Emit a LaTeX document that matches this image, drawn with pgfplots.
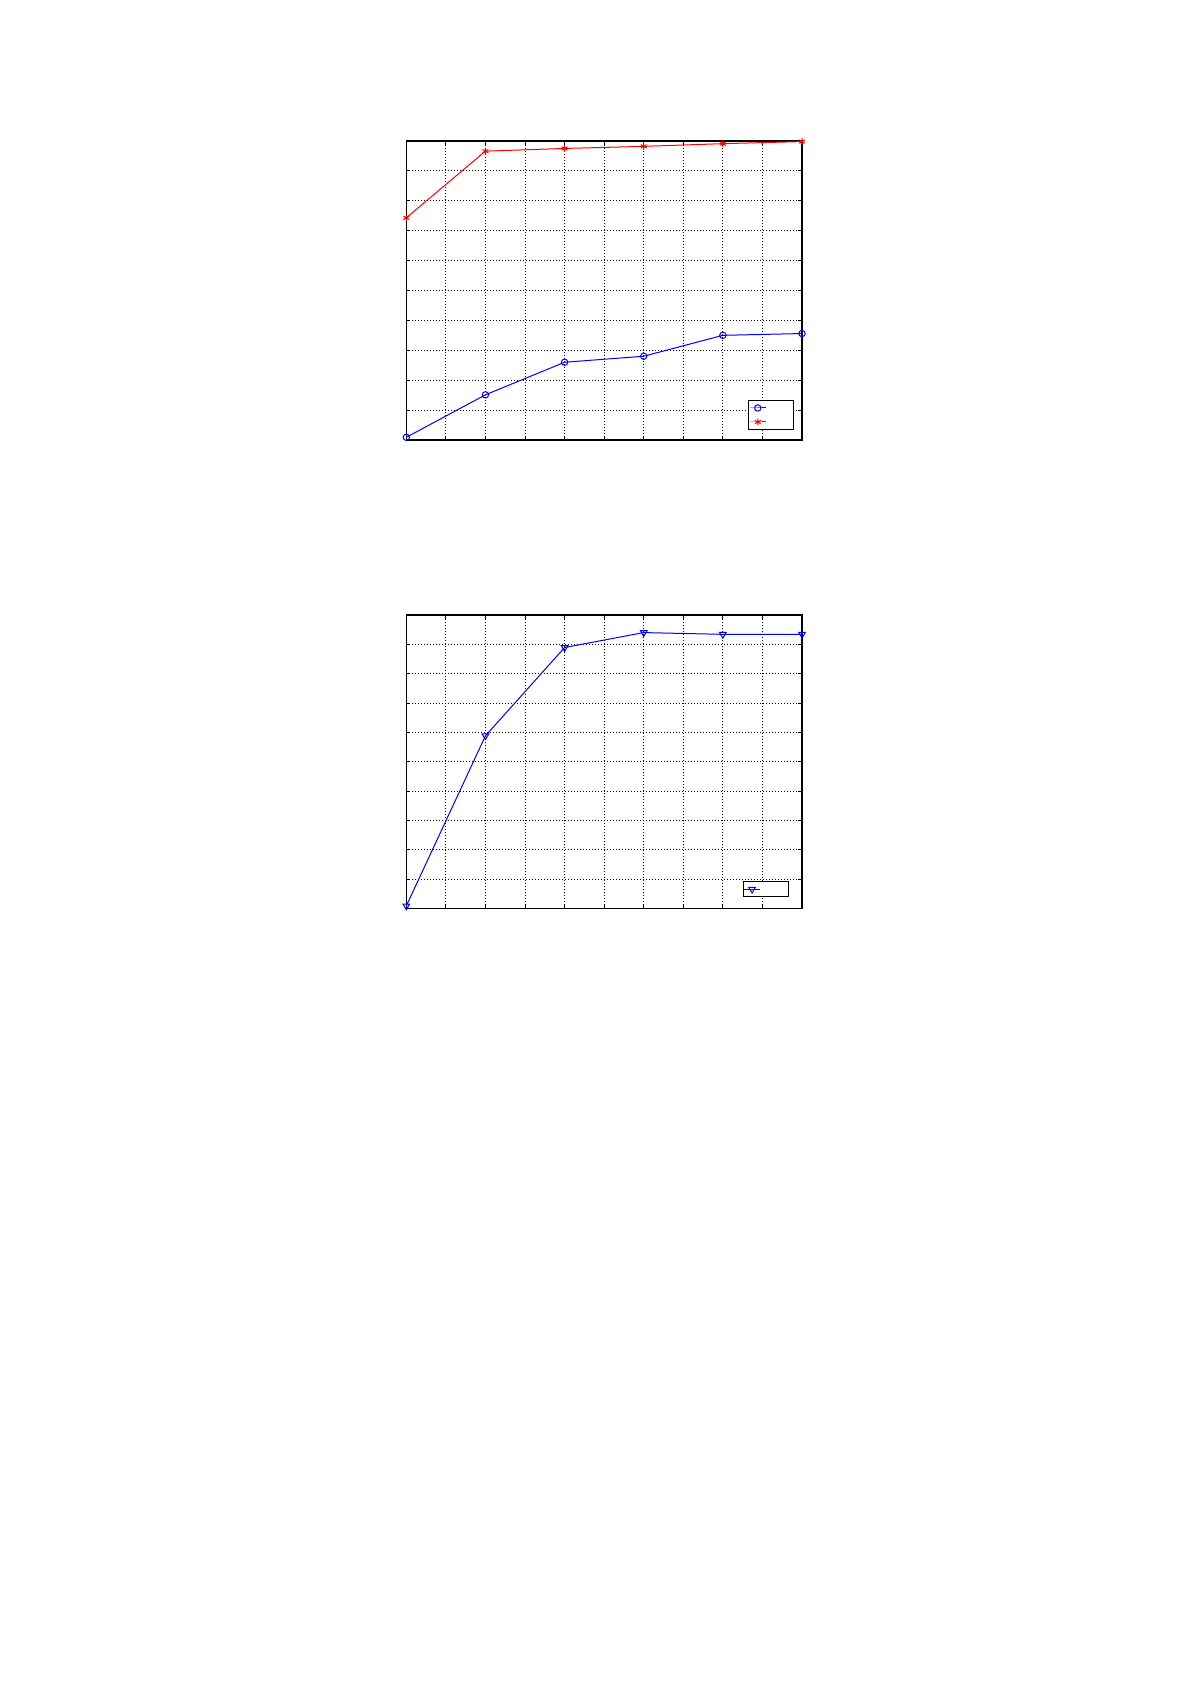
\documentclass[border=0pt]{standalone}
\usepackage{pgfplots}
\pgfplotsset{compat=1.18}
\definecolor{mblue}{rgb}{0,0,1}
\definecolor{mred}{rgb}{1,0,0}
\pgfplotsset{
  mstyle/.style={
    scale only axis,
    width=197.85pt,
    xmin=0, xmax=10, ymin=0, ymax=10,
    xtick={0,1,...,10}, ytick={0,1,...,10},
    xticklabels={}, yticklabels={},
    tick align=inside,
    major tick length=1.8pt,
    tick style={black, line width=0.4pt},
    axis line style={black, line width=0.6pt},
    grid=major,
    major grid style={black, line width=0.45pt, dash pattern=on 0.5pt off 1pt},
    clip=false,
    legend style={at={(1,0)}, anchor=south east, xshift=-3.85pt, yshift=5pt,
      draw=black, line width=0.5pt, inner sep=0.25pt, font=\tiny,
      nodes={inner sep=0.5pt, text height=3.5pt, text depth=2.5pt},
      row sep=0pt},
    legend image code/.code={%
      \draw[mark repeat=2,mark phase=2] plot coordinates {(0pt,0pt) (4pt,0pt) (8pt,0pt)};},
  }
}
\begin{document}
\begin{tikzpicture}[x=1pt,y=1pt]
\path[use as bounding box] (0,0) rectangle (595.5,842.5);
\begin{axis}[mstyle, height=149.5pt, at={(203.15pt,622.5pt)}, anchor=south west]
\addplot[mblue, line width=0.5pt, mark=o, mark size=1.6pt, mark options={solid, line width=0.5pt}]
  coordinates {(0,0.09) (2,1.51) (4,2.60) (6,2.80) (8,3.50) (10,3.56)};
\addlegendentry{\makebox[12.5pt]{}}
\addplot[mred, line width=0.5pt, mark=asterisk, mark size=1.7pt, mark options={solid, line width=0.5pt}]
  coordinates {(0,7.43) (2,9.66) (4,9.75) (6,9.82) (8,9.91) (10,9.98)};
\addlegendentry{\makebox[12.5pt]{}}
\end{axis}
\begin{axis}[mstyle, height=146.65pt, at={(203.15pt,388.35pt)}, anchor=south west,
  legend style={yshift=0.5pt, xshift=-2.85pt}]
\addplot[mblue, line width=0.5pt, mark=triangle, mark size=1.9pt, mark options={solid, rotate=180, line width=0.5pt}]
  coordinates {(0,0.08) (2,5.88) (4,8.89) (6,9.40) (8,9.34) (10,9.34)};
\addlegendentry{\makebox[12.5pt]{}}
\end{axis}
\end{tikzpicture}
\end{document}
